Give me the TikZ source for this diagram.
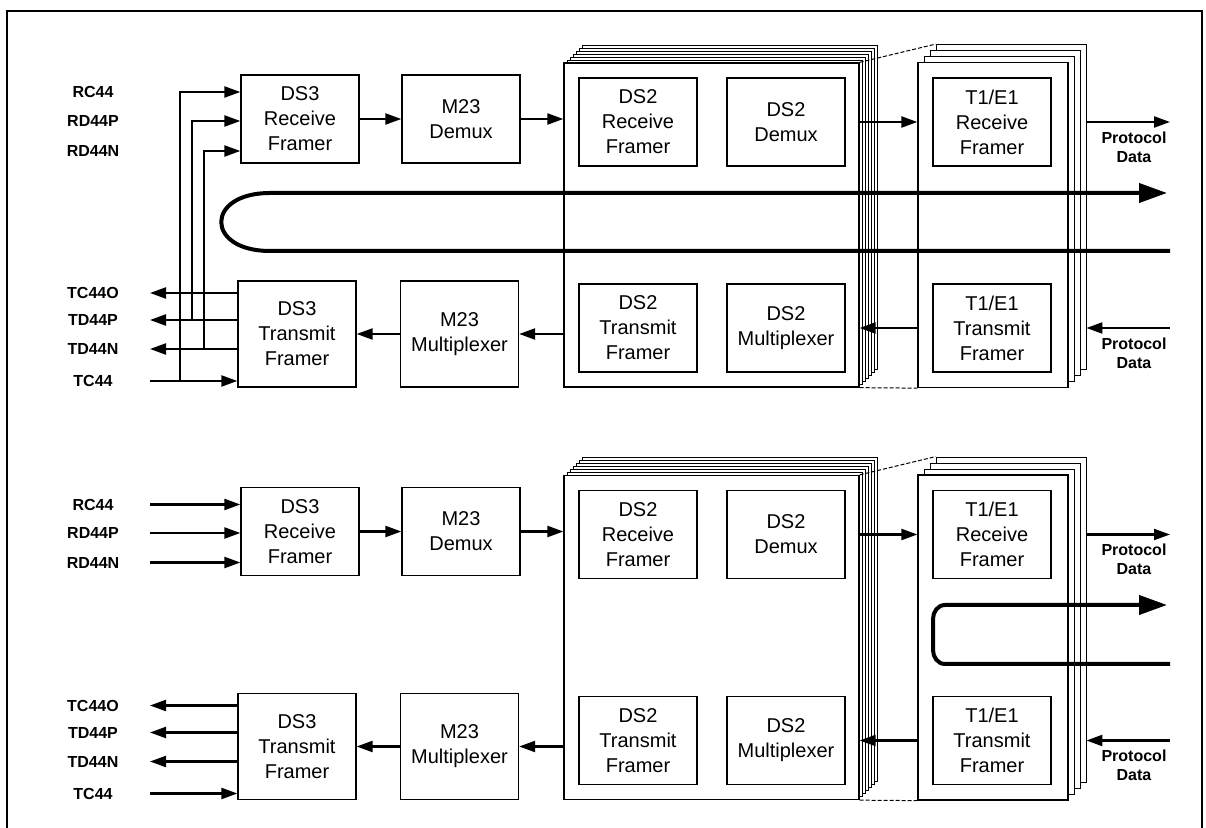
\documentclass[tikz,border=0pt]{standalone}
\usepackage{fontspec}
\setmainfont{Liberation Sans}
\usetikzlibrary{arrows.meta}
\tikzset{
    blk/.style={draw, line width=0.65pt, minimum width=59pt, minimum height=44pt, inner sep=0pt, align=center, font=\fontsize{10}{12.5}\selectfont},
    tallblk/.style={blk, minimum height=53pt},
    pin/.style={font=\bfseries\fontsize{8}{9.5}\selectfont, align=center, inner sep=1pt},
    sig/.style={line width=1.1pt, -{Triangle[length=8pt, width=5.5pt]}},
    loopline/.style={line width=2pt, -{Triangle[length=14pt, width=9.5pt]}},
    ds2card/.style={draw, fill=white, line width=0.65pt, minimum width=147.5pt, minimum height=162pt, inner sep=0pt},
    t1card/.style={draw, fill=white, line width=0.65pt, minimum width=75pt, minimum height=162.5pt, inner sep=0pt},
    stackline/.style={dash pattern=on 2pt off 1pt, line width=0.5pt}
}
\begin{document}
\begin{tikzpicture}[x=0.5pt, y=-0.5pt]
    \useasboundingbox (0,0) rectangle (1206,828);
    \draw[line width=1pt] (7,828) -- (7,11) -- (1202,11) -- (1202,828);

    \coordinate (lend) at (150,0);
    \coordinate (rend) at (1170,0);
    \coordinate (tap1) at (180,0);
    \coordinate (tap2) at (192,0);
    \coordinate (tap3) at (204,0);

    % ---- upper half: DS3 loopback ----
    \foreach \k in {6,...,1}
        \node[ds2card, line width=0.4pt] (ds2a\k) at (711.5+3*\k, 225-3*\k) {};
    \node[ds2card] (ds2a) at (711.5,225) {};
    \foreach \k in {3,...,1}
        \node[t1card, line width=0.4pt] (t1a\k) at (993+6*\k, 225-6*\k) {};
    \node[t1card] (t1a) at (993,225) {};

    \node[blk] (rx3a) at (300,119) {DS3\\Receive\\Framer};
    \node[blk] (dmx23a) at (461,119) {M23\\Demux};
    \node[blk] (rx2a) at (638,122) {DS2\\Receive\\Framer};
    \node[blk] (dmx2a) at (786,122) {DS2\\Demux};
    \node[blk] (rx1a) at (992,122) {T1/E1\\Receive\\Framer};
    \node[tallblk] (tx3a) at (297,334) {DS3\\Transmit\\Framer};
    \node[tallblk] (mux23a) at (459.5,334) {M23\\Multiplexer};
    \node[blk] (tx2a) at (638,328) {DS2\\Transmit\\Framer};
    \node[blk] (mux2a) at (786,328) {DS2\\Multiplexer};
    \node[blk] (tx1a) at (992,328) {T1/E1\\Transmit\\Framer};

    \node[pin] (rc44a) at (93,92) {RC44};
    \node[pin] (rd44pa) at (93,121) {RD44P};
    \node[pin] (rd44na) at (93,151) {RD44N};
    \node[pin] (tc44oa) at (93,293) {TC44O};
    \node[pin] (td44pa) at (93,320) {TD44P};
    \node[pin] (td44na) at (93,349) {TD44N};
    \node[pin] (tc44a) at (93,381) {TC44};
    \node[pin] (pdoa) at (1134,147) {Protocol\\Data};
    \node[pin] (pdia) at (1134,353) {Protocol\\Data};

    \draw[sig] (tx3a.west |- tc44oa) -- (tc44oa -| lend);
    \draw[sig] (tx3a.west |- td44pa) -- (td44pa -| lend);
    \draw[sig] (tx3a.west |- td44na) -- (td44na -| lend);
    \draw[sig] (tc44a -| lend) -- (tx3a.west |- tc44a);
    \draw[sig] (tap1 |- tc44a) |- (rx3a.west |- rc44a);
    \draw[sig] (tap2 |- td44pa) |- (rx3a.west |- rd44pa);
    \draw[sig] (tap3 |- td44na) |- (rx3a.west |- rd44na);
    \draw[sig] (rx3a) -- (dmx23a);
    \draw[sig] (dmx23a.east) -- (dmx23a.east -| ds2a.west);
    \draw[sig] (dmx2a.east -| ds2a.east) -- (dmx2a.east -| t1a.west);
    \draw[sig] (rx1a.east -| t1a3.east) -- (rx1a.east -| rend);
    \draw[sig] (tx1a.west -| rend) -- (tx1a.west -| t1a3.east);
    \draw[sig] (tx1a.west -| t1a.west) -- (tx1a.west -| ds2a.east);
    \draw[sig] (mux23a.east -| ds2a.west) -- (mux23a.east);
    \draw[sig] (mux23a) -- (tx3a);

    \draw[stackline] (ds2a.north east) -- (t1a3.north west);
    \draw[stackline] (ds2a.south east) -- (t1a.south west);

    \coordinate (lpa1) at (1170,251);
    \coordinate (lpa2) at (270,251);
    \coordinate (lpa3) at (270,193);
    \coordinate (lpa4) at (1167,193);
    \draw[loopline] (lpa1) -- (lpa2) .. controls (205,251) and (205,193) .. (lpa3) -- (lpa4);

    % ---- lower half: T1/E1 loopback ----
    \foreach \k in {6,...,1}
        \node[ds2card, line width=0.4pt] (ds2b\k) at (711.5+3*\k, 637.5-3*\k) {};
    \node[ds2card] (ds2b) at (711.5,637.5) {};
    \foreach \k in {3,...,1}
        \node[t1card, line width=0.4pt] (t1b\k) at (993+6*\k, 637.5-6*\k) {};
    \node[t1card] (t1b) at (993,637.5) {};

    \node[blk] (rx3b) at (300,531.5) {DS3\\Receive\\Framer};
    \node[blk] (dmx23b) at (461,531.5) {M23\\Demux};
    \node[blk] (rx2b) at (638,534.5) {DS2\\Receive\\Framer};
    \node[blk] (dmx2b) at (786,534.5) {DS2\\Demux};
    \node[blk] (rx1b) at (992,534.5) {T1/E1\\Receive\\Framer};
    \node[tallblk] (tx3b) at (297,746.5) {DS3\\Transmit\\Framer};
    \node[tallblk] (mux23b) at (459.5,746.5) {M23\\Multiplexer};
    \node[blk] (tx2b) at (638,740.5) {DS2\\Transmit\\Framer};
    \node[blk] (mux2b) at (786,740.5) {DS2\\Multiplexer};
    \node[blk] (tx1b) at (992,740.5) {T1/E1\\Transmit\\Framer};

    \node[pin] (rc44b) at (93,504.5) {RC44};
    \node[pin] (rd44pb) at (93,533) {RD44P};
    \node[pin] (rd44nb) at (93,562.5) {RD44N};
    \node[pin] (tc44ob) at (93,705.5) {TC44O};
    \node[pin] (td44pb) at (93,732.5) {TD44P};
    \node[pin] (td44nb) at (93,761.5) {TD44N};
    \node[pin] (tc44b) at (93,793.5) {TC44};
    \node[pin] (pdob) at (1134,559.5) {Protocol\\Data};
    \node[pin] (pdib) at (1134,765.5) {Protocol\\Data};

    \draw[sig] (rc44b -| lend) -- (rx3b.west |- rc44b);
    \draw[sig] (rd44pb -| lend) -- (rx3b.west |- rd44pb);
    \draw[sig] (rd44nb -| lend) -- (rx3b.west |- rd44nb);
    \draw[sig] (tx3b.west |- tc44ob) -- (tc44ob -| lend);
    \draw[sig] (tx3b.west |- td44pb) -- (td44pb -| lend);
    \draw[sig] (tx3b.west |- td44nb) -- (td44nb -| lend);
    \draw[sig] (tc44b -| lend) -- (tx3b.west |- tc44b);
    \draw[sig] (rx3b) -- (dmx23b);
    \draw[sig] (dmx23b.east) -- (dmx23b.east -| ds2b.west);
    \draw[sig] (dmx2b.east -| ds2b.east) -- (dmx2b.east -| t1b.west);
    \draw[sig] (rx1b.east -| t1b3.east) -- (rx1b.east -| rend);
    \draw[sig] (tx1b.west -| rend) -- (tx1b.west -| t1b3.east);
    \draw[sig] (tx1b.west -| t1b.west) -- (tx1b.west -| ds2b.east);
    \draw[sig] (mux23b.east -| ds2b.west) -- (mux23b.east);
    \draw[sig] (mux23b) -- (tx3b);

    \draw[stackline] (ds2b.north east) -- (t1b3.north west);
    \draw[stackline] (ds2b.south east) -- (t1b.south west);

    \coordinate (lpb1) at (1170,664);
    \coordinate (lpb2) at (945,664);
    \coordinate (lpb3) at (945,605);
    \coordinate (lpb4) at (1167,605);
    \draw[loopline] (lpb1) -- (lpb2) to[out=180, in=-90] (933,650) -- (933,619) to[out=90, in=180] (lpb3) -- (lpb4);
\end{tikzpicture}
\end{document}
